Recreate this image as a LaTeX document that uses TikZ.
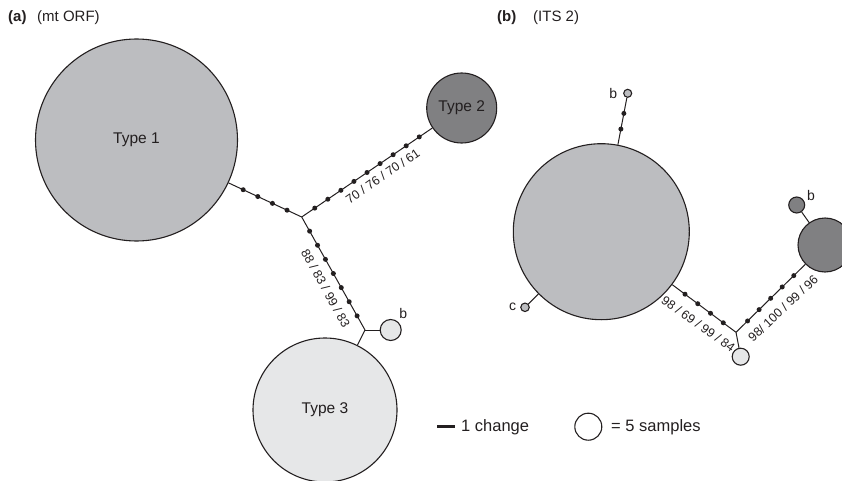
\documentclass[tikz,border=0pt]{standalone}
\usepackage{fontspec}
\setmainfont{Liberation Sans}
\definecolor{gmid}{HTML}{BCBDC0}
\definecolor{gdark}{HTML}{808082}
\definecolor{glight}{HTML}{E6E7E8}
\definecolor{ink}{HTML}{231F20}
\tikzset{
  hap/.style={circle, draw=ink, line width=1.1pt, inner sep=0pt, text=ink,
              font=\fontsize{15.5}{18}\selectfont},
  link/.style={draw=ink, line width=1pt},
  mut/.style={circle, fill=ink, inner sep=0pt, minimum size=5pt},
  supp/.style={text=ink, inner sep=0pt, font=\fontsize{12.5}{14}\selectfont},
  tag/.style={text=ink, inner sep=0pt, font=\fontsize{14}{16}\selectfont},
  head/.style={text=ink, inner sep=0pt, anchor=west, font=\fontsize{15}{18}\selectfont},
  legtext/.style={text=ink, inner sep=0pt, anchor=west, font=\fontsize{16.5}{19}\selectfont},
}
\begin{document}
\begin{tikzpicture}[x=1pt,y=-1pt]
\useasboundingbox (0,0) rectangle (842,481);
\clip (0,0) rectangle (842,481);

% panel headings
\node[head] (pa) at (8,18) {\textbf{(a)}};
\node[head] (pam) at (37,18) {(mt ORF)};
\node[head] (pb) at (497,18) {\textbf{(b)}};
\node[head] (pbm) at (533,18) {(ITS 2)};

% ---- (a) mt ORF network ----
\coordinate (ja) at (301.7,217);
\coordinate (jb) at (365,330);
\node[hap, fill=gmid,   minimum size=202pt] (t1)  at (136.5,140) {Type 1};
\node[hap, fill=gdark,  minimum size=70pt]  (t2)  at (461.7,108) {Type 2};
\node[hap, fill=glight, minimum size=144pt] (t3)  at (325,410)   {Type 3};
\node[hap, fill=glight, minimum size=21pt]  (t3b) at (390.7,330) {};

\draw[link] (t1) -- (ja)
  node[mut,pos=.2]{} node[mut,pos=.4]{} node[mut,pos=.6]{} node[mut,pos=.8]{};
\draw[link] (ja) -- (t2)
  node[mut,pos=.1]{} node[mut,pos=.2]{} node[mut,pos=.3]{}
  node[mut,pos=.4]{} node[mut,pos=.5]{} node[mut,pos=.6]{}
  node[mut,pos=.7]{} node[mut,pos=.8]{} node[mut,pos=.9]{};
\draw[link] (ja) -- (jb)
  node[mut,pos=1/8]{} node[mut,pos=2/8]{} node[mut,pos=3/8]{}
  node[mut,pos=4/8]{} node[mut,pos=5/8]{} node[mut,pos=6/8]{}
  node[mut,pos=7/8]{};
\draw[link] (jb) -- (t3);
\draw[link] (jb) -- (t3b);

\node[supp, rotate=35]    (s1) at (382.7,176.3) {70 / 76 / 70 / 61};
\node[supp, rotate=-60.8] (s2) at (325.7,288.3) {88 / 83 / 99 / 83};
\node[tag] (ta) at (403.3,313.3) {b};

% ---- (b) ITS 2 network ----
\coordinate (jc) at (736,332.3);
\node[hap, fill=gmid,   minimum size=176pt] (h1)  at (601.3,231.7) {};
\node[hap, fill=gmid,   minimum size=8pt]   (hb)  at (627.7,93.3)  {};
\node[hap, fill=gmid,   minimum size=8.5pt] (hc)  at (525,307.3)   {};
\node[hap, fill=gdark,  minimum size=54pt]  (h2)  at (825,245)     {};
\node[hap, fill=gdark,  minimum size=16pt]  (h2b) at (796.7,205)   {};
\node[hap, fill=glight, minimum size=17pt]  (h3)  at (740.7,356.7) {};

\draw[link] (h1) -- (hb) node[mut,pos=1/3]{} node[mut,pos=2/3]{};
\draw[link] (h1) -- (hc);
\draw[link] (h1) -- (jc)
  node[mut,pos=.2]{} node[mut,pos=.4]{} node[mut,pos=.6]{} node[mut,pos=.8]{};
\draw[link] (jc) -- (h2)
  node[mut,pos=1/6]{} node[mut,pos=2/6]{} node[mut,pos=3/6]{}
  node[mut,pos=4/6]{} node[mut,pos=5/6]{};
\draw[link] (jc) -- (h3);
\draw[link] (h2) -- (h2b);

\node[supp, rotate=-35.8] (s3) at (698.3,324)   {98 / 69 / 99 / 84};
\node[supp, rotate=43.3]  (s4) at (783,308.3)   {98/ 100 / 99 / 96};
\node[tag] (tb1) at (613.3,93.3) {b};
\node[tag] (tc)  at (512.7,306.7) {c};
\node[tag] (tb2) at (811,195) {b};

% ---- legend ----
\coordinate (dl) at (437,426.7);
\coordinate (dr) at (455,426.7);
\draw[ink, line width=3pt] (dl) -- (dr);
\node[legtext] (l1) at (461,427) {1 change};
\node[hap, fill=white, minimum size=27pt] (lc) at (588.3,426.7) {};
\node[legtext] (l2) at (611,427) {= 5 samples};
\end{tikzpicture}
\end{document}
